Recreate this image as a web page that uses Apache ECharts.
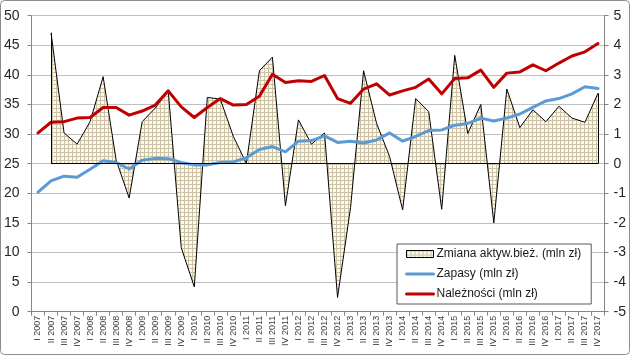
<!DOCTYPE html>
<html>
<head>
<meta charset="utf-8">
<script src="https://cdn.jsdelivr.net/npm/echarts@6/dist/echarts.min.js"></script>
<style>
html,body{margin:0;padding:0;background:#fff;}
#chart{width:630px;height:355px;}
</style>
</head>
<body>
<div id="chart"></div>
<script>
var categories = [
  "I 2007","II 2007","III 2007","IV 2007",
  "I 2008","II 2008","III 2008","IV 2008",
  "I 2009","II 2009","III 2009","IV 2009",
  "I 2010","II 2010","III 2010","IV 2010",
  "I 2011","II 2011","III 2011","IV 2011",
  "I 2012","II 2012","III 2012","IV 2012",
  "I 2013","II 2013","III 2013","IV 2013",
  "I 2014","II 2014","III 2014","IV 2014",
  "I 2015","II 2015","III 2015","IV 2015",
  "I 2016","II 2016","III 2016","IV 2016",
  "I 2017","II 2017","III 2017","IV 2017"
];
// right axis (mln zł)
var zmiana = [null,
  4.42, 1.04, 0.66, 1.42, 2.94, 0.12, -1.16, 1.42, 1.88, 2.46,
  -2.84, -4.16, 2.24, 2.18, 0.92, 0.01, 3.14, 3.60, -1.42, 1.48,
  0.66, 1.04, -4.52, -1.48, 3.14, 1.36, 0.24, -1.56, 2.20, 1.76,
  -1.54, 3.66, 1.02, 2.00, -2.00, 2.52, 1.22, 1.82, 1.42, 1.94,
  1.54, 1.40, 2.38];
// left axis
var zapasy = [
  20.2, 22.1, 22.9, 22.7, 24.05, 25.5, 25.2, 24.1, 25.6, 25.9,
  25.85, 25.2, 24.8, 24.8, 25.2, 25.3, 26.0, 27.4, 27.9, 27.0,
  28.8, 28.9, 29.7, 28.6, 28.8, 28.5, 29.0, 30.2, 28.8, 29.6,
  30.6, 30.7, 31.5, 31.8, 32.7, 32.2, 32.7, 33.4, 34.5, 35.6,
  36.0, 36.8, 38.0, 37.7];
var naleznosci = [
  30.2, 32.0, 32.1, 32.7, 32.8, 34.5, 34.5, 33.2, 33.9, 34.9,
  37.3, 34.6, 32.8, 34.5, 36.0, 34.9, 35.0, 36.4, 40.1, 38.7,
  39.0, 38.9, 39.9, 36.0, 35.2, 37.6, 38.5, 36.6, 37.3, 37.9,
  39.3, 36.8, 39.4, 39.5, 40.8, 37.9, 40.3, 40.5, 41.7, 40.7,
  42.0, 43.2, 43.9, 45.3];
var seriesNames = ["Zmiana aktyw.bież. (mln zł)", "Zapasy (mln zł)", "Należności (mln zł)"];

// hatch (small grid) pattern
var pc = document.createElement('canvas');
pc.width = 4; pc.height = 4;
var ctx = pc.getContext('2d');
ctx.fillStyle = '#fcf8ec';
ctx.fillRect(0, 0, 4, 4);
ctx.fillStyle = '#cbc2a8';
ctx.fillRect(0, 0, 4, 1);
ctx.fillRect(0, 0, 1, 4);
var pattern = {image: pc, repeat: 'repeat'};

var firstIdx = 1, lastIdx = categories.length - 1;

var chart = echarts.init(document.getElementById('chart'), null, {renderer: 'canvas'});
var font = 'Liberation Sans';
chart.setOption({
  animation: false,
  textStyle: {fontFamily: font},
  graphic: [{
    type: 'rect', silent: true, z: -10,
    shape: {x: 0.5, y: 0.5, width: 629, height: 354, r: 4},
    style: {fill: 'none', stroke: '#8c8c8c', lineWidth: 1}
  }],
  grid: {left: 31.5, right: 25.5, top: 15.7, bottom: 43.3, containLabel: false},
  legend: {
    orient: 'vertical',
    left: 397, top: 244,
    padding: [3, 10, 3, 8],
    itemGap: 6,
    itemWidth: 27,
    itemHeight: 7,
    backgroundColor: '#fff',
    borderColor: '#595959',
    borderWidth: 1,
    textStyle: {fontSize: 12, color: '#1a1a1a', fontFamily: font, lineHeight: 14, padding: [0, 0, 0, -2]},
    data: [
      {name: seriesNames[0], icon: 'rect', itemStyle: {color: pattern, borderColor: '#000', borderWidth: 1}},
      {name: seriesNames[1], itemStyle: {opacity: 0}, lineStyle: {color: '#5b9bd5', width: 3}},
      {name: seriesNames[2], itemStyle: {opacity: 0}, lineStyle: {color: '#c00000', width: 3}}
    ]
  },
  xAxis: {
    type: 'category',
    data: categories,
    boundaryGap: true,
    axisLine: {show: true, lineStyle: {color: '#868686', width: 1}},
    axisTick: {show: true, interval: 0, length: 4, lineStyle: {color: '#868686'}},
    axisLabel: {interval: 0, rotate: 90, fontSize: 9, color: '#404040', margin: 4}
  },
  yAxis: [{
    type: 'value', min: 0, max: 50, interval: 5,
    position: 'left',
    axisLine: {show: true, lineStyle: {color: '#868686'}},
    axisTick: {show: true, length: 4, lineStyle: {color: '#868686'}},
    axisLabel: {fontSize: 14, color: '#262626', margin: 12},
    splitLine: {show: true, lineStyle: {color: '#bfbfbf', width: 1}}
  }, {
    type: 'value', min: -5, max: 5, interval: 1,
    position: 'right',
    axisLine: {show: true, lineStyle: {color: '#868686'}},
    axisTick: {show: true, length: 4, lineStyle: {color: '#868686'}},
    axisLabel: {fontSize: 14, color: '#262626', margin: 9},
    splitLine: {show: false}
  }],
  series: [{
    name: seriesNames[0],
    type: 'line',
    yAxisIndex: 1,
    data: zmiana,
    symbol: 'none',
    z: 2,
    lineStyle: {color: '#000', width: 1},
    itemStyle: {color: '#000'},
    areaStyle: {color: pattern, opacity: 1},
    markLine: {
      silent: true, symbol: 'none', animation: false,
      label: {show: false},
      lineStyle: {color: '#000', width: 1, type: 'solid'},
      emphasis: {disabled: true},
      data: [
        [{coord: [categories[firstIdx], 0]}, {coord: [categories[lastIdx], 0]}],
        [{coord: [categories[firstIdx], 0]}, {coord: [categories[firstIdx], zmiana[firstIdx]]}],
        [{coord: [categories[lastIdx], 0]}, {coord: [categories[lastIdx], zmiana[lastIdx]]}]
      ]
    }
  }, {
    name: seriesNames[1],
    type: 'line',
    yAxisIndex: 0,
    data: zapasy,
    symbol: 'none',
    z: 3,
    lineStyle: {color: '#5b9bd5', width: 3, cap: 'round', join: 'round'},
    itemStyle: {color: '#5b9bd5'}
  }, {
    name: seriesNames[2],
    type: 'line',
    yAxisIndex: 0,
    data: naleznosci,
    symbol: 'none',
    z: 4,
    lineStyle: {color: '#c00000', width: 3, cap: 'round', join: 'round'},
    itemStyle: {color: '#c00000'}
  }]
});
</script>
</body>
</html>
